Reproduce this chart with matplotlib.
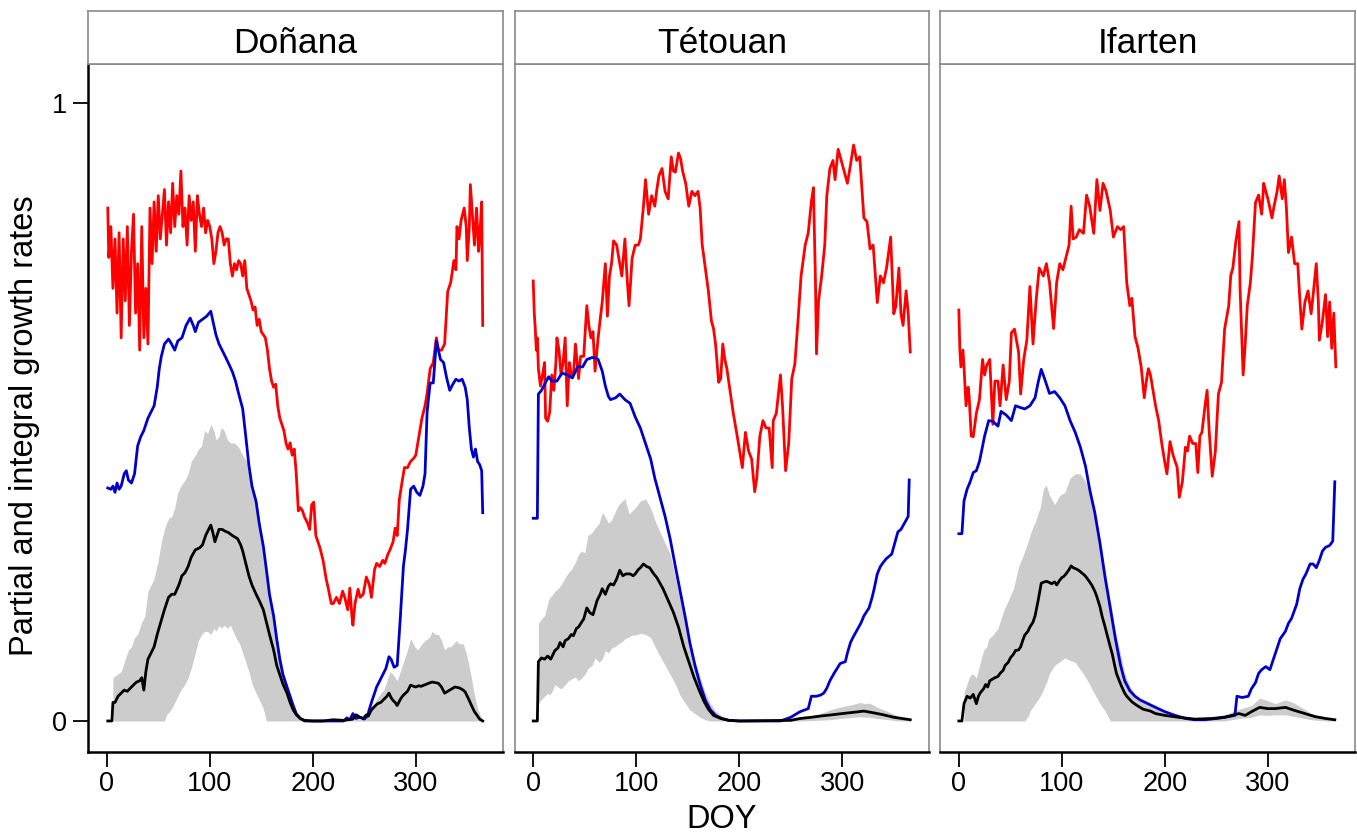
import matplotlib
matplotlib.use("Agg")
import matplotlib.pyplot as plt

plt.rcParams['font.family'] = ['Liberation Sans', 'DejaVu Sans']

sites = ["Doñana", "Tétouan", "Ifarten"]
x_ticks = [0, 100, 200, 300]

# ---------------- Doñana ----------------
donana_red_doy = [1, 2, 4, 6, 8, 10, 12, 14, 16, 18, 20, 22, 24, 26, 28, 30, 32, 34, 36, 38, 40,
                  42, 44, 46, 48, 50, 52, 54, 56, 58, 60, 62, 64, 66, 68, 70, 72, 74, 76, 78, 80,
                  82, 84, 86, 88, 90, 92, 94, 96, 98, 100, 102, 104, 106, 108, 110, 112, 114, 116,
                  118, 120, 122, 124, 126, 128, 130, 132, 134, 136, 138, 140, 142, 144, 146, 148,
                  150, 152, 154, 156, 158, 160, 162, 164, 166, 168, 170, 172, 174, 176, 178, 180,
                  182, 184, 186, 188, 190, 192, 195, 197, 199, 201, 203, 205, 207, 210, 213, 215,
                  218, 220, 223, 226, 229, 231, 234, 236, 238, 239, 241, 244, 246, 249, 252, 255,
                  257, 260, 262, 265, 268, 270, 273, 275, 278, 280, 282, 284, 287, 289, 292, 295,
                  298, 300, 302, 304, 306, 309, 311, 314, 317, 320, 322, 325, 328, 331, 334, 337,
                  339, 340, 342, 344, 347, 349, 350, 352, 353, 355, 357, 359, 361, 362, 364, 365]
donana_red = [0.83, 0.75, 0.80, 0.70, 0.78, 0.66, 0.79, 0.62, 0.78, 0.68, 0.80, 0.64, 0.76, 0.82,
              0.66, 0.74, 0.60, 0.80, 0.62, 0.70, 0.61, 0.83, 0.74, 0.84, 0.76, 0.85, 0.78, 0.82,
              0.86, 0.77, 0.84, 0.79, 0.87, 0.80, 0.85, 0.82, 0.89, 0.80, 0.83, 0.77, 0.85, 0.81,
              0.84, 0.76, 0.85, 0.82, 0.80, 0.83, 0.79, 0.81, 0.80, 0.78, 0.74, 0.76, 0.79, 0.80,
              0.79, 0.77, 0.78, 0.78, 0.74, 0.72, 0.74, 0.73, 0.745, 0.74, 0.72, 0.745, 0.70, 0.69,
              0.68, 0.665, 0.67, 0.64, 0.65, 0.63, 0.625, 0.62, 0.60, 0.57, 0.55, 0.54, 0.545, 0.51,
              0.49, 0.48, 0.47, 0.45, 0.44, 0.45, 0.43, 0.44, 0.40, 0.34, 0.345, 0.34, 0.33, 0.32,
              0.31, 0.35, 0.354, 0.30, 0.29, 0.28, 0.26, 0.23, 0.215, 0.19, 0.19, 0.20, 0.19, 0.21,
              0.20, 0.18, 0.215, 0.17, 0.155, 0.19, 0.213, 0.20, 0.205, 0.233, 0.22, 0.20, 0.245,
              0.255, 0.25, 0.26, 0.255, 0.27, 0.277, 0.29, 0.312, 0.30, 0.358, 0.39, 0.41, 0.41,
              0.42, 0.425, 0.43, 0.45, 0.47, 0.49, 0.51, 0.53, 0.57, 0.58, 0.62, 0.60, 0.60, 0.61,
              0.695, 0.71, 0.745, 0.73, 0.80, 0.78, 0.81, 0.83, 0.80, 0.745, 0.80, 0.868, 0.82,
              0.77, 0.83, 0.76, 0.78, 0.84, 0.64]
donana_blue_doy = [1, 4, 6, 8, 10, 12, 14, 17, 19, 21, 24, 27, 30, 33, 36, 40, 43, 46, 49, 51, 53,
                   56, 60, 63, 66, 69, 73, 77, 81, 84, 86, 89, 93, 97, 101, 104, 106, 109, 112, 115,
                   119, 122, 125, 128, 132, 135, 138, 141, 145, 148, 152, 155, 158, 162, 165, 168,
                   171, 175, 178, 181, 184, 188, 192, 230, 233, 236, 239, 242, 246, 250, 253, 257,
                   260, 262, 265, 268, 271, 274, 276, 279, 282, 285, 288, 290, 292, 295, 298, 301,
                   304, 307, 309, 311, 314, 317, 320, 322, 324, 327, 330, 333, 336, 339, 342, 345,
                   348, 350, 352, 354, 356, 358, 360, 362, 364, 365]
donana_blue = [0.377, 0.375, 0.38, 0.37, 0.385, 0.375, 0.38, 0.40, 0.405, 0.39, 0.385, 0.40, 0.445,
               0.46, 0.47, 0.49, 0.50, 0.51, 0.54, 0.57, 0.59, 0.61, 0.618, 0.61, 0.60, 0.615, 0.62,
               0.64, 0.652, 0.64, 0.63, 0.645, 0.65, 0.655, 0.663, 0.64, 0.625, 0.61, 0.60, 0.59,
               0.576, 0.565, 0.55, 0.53, 0.505, 0.46, 0.414, 0.38, 0.355, 0.32, 0.283, 0.245, 0.205,
               0.17, 0.133, 0.10, 0.075, 0.055, 0.04, 0.025, 0.012, 0.004, 0.0, 0.0, 0.005, 0.002,
               0.012, 0.004, 0.006, 0.003, 0.008, 0.03, 0.045, 0.055, 0.065, 0.075, 0.085, 0.104,
               0.10, 0.087, 0.09, 0.167, 0.25, 0.277, 0.31, 0.375, 0.38, 0.37, 0.365, 0.38, 0.40,
               0.50, 0.547, 0.547, 0.615, 0.60, 0.585, 0.58, 0.555, 0.535, 0.545, 0.553, 0.55,
               0.553, 0.54, 0.52, 0.474, 0.44, 0.427, 0.44, 0.42, 0.415, 0.405, 0.337]
donana_black_doy = [1, 5, 6, 8, 11, 14, 17, 20, 24, 27, 29, 32, 34, 36, 38, 40, 43, 46, 49, 53, 56,
                    60, 63, 66, 70, 73, 76, 79, 82, 86, 90, 93, 96, 98, 101, 103, 105, 107, 109, 112,
                    115, 118, 122, 125, 127, 130, 132, 135, 138, 141, 145, 148, 152, 155, 158, 162,
                    165, 168, 171, 175, 178, 181, 184, 188, 192, 200, 210, 220, 230, 239, 242, 246,
                    249, 252, 254, 256, 258, 261, 263, 266, 269, 272, 274, 276, 278, 280, 282, 285,
                    287, 290, 292, 295, 298, 300, 303, 305, 308, 311, 314, 316, 319, 322, 325, 328,
                    331, 333, 336, 338, 341, 343, 346, 348, 350, 352, 355, 357, 360, 362, 365]
donana_black = [0.0, 0.0, 0.03, 0.03, 0.04, 0.045, 0.05, 0.048, 0.055, 0.06, 0.063, 0.065, 0.07,
                0.05, 0.08, 0.10, 0.11, 0.12, 0.14, 0.163, 0.18, 0.20, 0.205, 0.205, 0.22, 0.235,
                0.24, 0.25, 0.265, 0.277, 0.28, 0.285, 0.30, 0.307, 0.317, 0.305, 0.29, 0.30, 0.31,
                0.31, 0.307, 0.305, 0.30, 0.297, 0.295, 0.285, 0.275, 0.255, 0.235, 0.22, 0.205,
                0.195, 0.18, 0.16, 0.14, 0.115, 0.09, 0.075, 0.06, 0.045, 0.03, 0.018, 0.01, 0.004,
                0.001, 0.0, 0.0, 0.002, 0.001, 0.003, 0.01, 0.006, 0.004, 0.01, 0.008, 0.015, 0.02,
                0.025, 0.028, 0.03, 0.035, 0.04, 0.045, 0.038, 0.033, 0.03, 0.025, 0.035, 0.04,
                0.045, 0.048, 0.058, 0.056, 0.055, 0.057, 0.056, 0.058, 0.06, 0.062, 0.063, 0.062,
                0.061, 0.055, 0.045, 0.048, 0.05, 0.053, 0.055, 0.054, 0.053, 0.05, 0.047, 0.04,
                0.033, 0.022, 0.015, 0.008, 0.003, 0.0]
donana_band_doy = [6, 10, 14, 18, 21, 24, 27, 30, 34, 37, 40, 43, 46, 50, 53, 56, 58, 61, 63, 66,
                   69, 72, 76, 79, 82, 86, 89, 92, 95, 98, 101, 104, 106, 109, 111, 114, 117, 120,
                   124, 127, 129, 132, 134, 136, 138, 141, 145, 148, 152, 155, 158, 162, 165, 168,
                   171, 175, 178, 181, 184, 188, 191, 220, 248, 253, 257, 262, 266, 269, 272, 275,
                   278, 282, 285, 289, 292, 295, 299, 302, 306, 309, 313, 316, 319, 322, 325, 328,
                   331, 334, 337, 339, 342, 346, 349, 351, 354, 356, 358, 360, 363, 365]
donana_band_hi = [0.07, 0.075, 0.08, 0.10, 0.115, 0.12, 0.135, 0.14, 0.16, 0.17, 0.21, 0.22, 0.23,
                  0.26, 0.29, 0.31, 0.32, 0.33, 0.33, 0.345, 0.37, 0.38, 0.39, 0.40, 0.42, 0.43,
                  0.44, 0.445, 0.47, 0.465, 0.48, 0.47, 0.455, 0.46, 0.475, 0.47, 0.455, 0.45, 0.45,
                  0.445, 0.44, 0.43, 0.425, 0.42, 0.40, 0.385, 0.36, 0.33, 0.28, 0.24, 0.21, 0.17,
                  0.14, 0.11, 0.085, 0.06, 0.04, 0.025, 0.013, 0.005, 0.0, 0.0, 0.003, 0.01, 0.02,
                  0.035, 0.045, 0.05, 0.065, 0.08, 0.075, 0.065, 0.08, 0.10, 0.115, 0.133, 0.12,
                  0.115, 0.125, 0.13, 0.135, 0.145, 0.14, 0.14, 0.13, 0.115, 0.12, 0.12, 0.125, 0.13,
                  0.125, 0.125, 0.11, 0.095, 0.07, 0.05, 0.035, 0.02, 0.008, 0.0]
donana_band_lo = [0.0] * 15 + [0.0, 0.01, 0.015, 0.02, 0.03, 0.04, 0.05, 0.06, 0.07, 0.085, 0.11,
                               0.13, 0.14, 0.145, 0.145, 0.14, 0.15, 0.145, 0.155, 0.15, 0.155,
                               0.15, 0.155, 0.14, 0.13, 0.125, 0.11, 0.10, 0.09, 0.08, 0.06,
                               0.045, 0.035, 0.02, 0.0] + [0.0] * 50

# ---------------- Tétouan ----------------
tetouan_red_doy = [0, 1, 2, 3, 4, 5, 7, 9, 11, 12, 14, 16, 18, 20, 22, 23, 25, 27, 29, 31, 33, 35,
                   37, 39, 41, 44, 46, 49, 52, 54, 56, 58, 60, 63, 65, 67, 70, 72, 74, 76, 78, 81,
                   83, 86, 89, 91, 93, 96, 99, 102, 104, 107, 109, 112, 115, 118, 120, 122, 125,
                   128, 131, 134, 136, 138, 141, 143, 145, 148, 151, 154, 157, 160, 162, 164, 167,
                   170, 173, 175, 177, 180, 182, 184, 186, 188, 191, 194, 198, 201, 203, 206, 209,
                   212, 215, 217, 220, 223, 226, 229, 232, 233, 236, 240, 242, 245, 248, 251, 254,
                   257, 260, 264, 267, 270, 272, 274, 275, 277, 280, 283, 285, 288, 291, 293, 296,
                   299, 303, 305, 308, 311, 314, 317, 321, 324, 327, 330, 334, 337, 340, 343, 347,
                   350, 352, 355, 357, 359, 362, 364, 366]
tetouan_red = [0.712, 0.66, 0.634, 0.60, 0.62, 0.57, 0.542, 0.56, 0.58, 0.49, 0.485, 0.50, 0.56,
               0.535, 0.58, 0.62, 0.60, 0.56, 0.58, 0.62, 0.51, 0.58, 0.56, 0.56, 0.61, 0.554, 0.59,
               0.59, 0.672, 0.64, 0.62, 0.63, 0.566, 0.62, 0.65, 0.678, 0.74, 0.655, 0.72, 0.74,
               0.777, 0.77, 0.75, 0.72, 0.78, 0.72, 0.672, 0.749, 0.77, 0.77, 0.78, 0.833, 0.876,
               0.82, 0.85, 0.833, 0.86, 0.882, 0.894, 0.857, 0.845, 0.913, 0.89, 0.888, 0.919,
               0.91, 0.89, 0.87, 0.833, 0.857, 0.85, 0.857, 0.83, 0.771, 0.733, 0.696, 0.647,
               0.635, 0.61, 0.548, 0.554, 0.61, 0.585, 0.57, 0.535, 0.50, 0.461, 0.43, 0.41, 0.467,
               0.437, 0.424, 0.371, 0.393, 0.461, 0.486, 0.474, 0.474, 0.41, 0.486, 0.498, 0.56,
               0.51, 0.405, 0.449, 0.554, 0.578, 0.647, 0.72, 0.77, 0.79, 0.84, 0.863, 0.71, 0.594,
               0.68, 0.72, 0.77, 0.85, 0.894, 0.907, 0.876, 0.925, 0.907, 0.882, 0.87, 0.90, 0.932,
               0.907, 0.913, 0.814, 0.808, 0.764, 0.77, 0.677, 0.72, 0.709, 0.733, 0.783, 0.659,
               0.671, 0.733, 0.659, 0.64, 0.696, 0.66, 0.597]
tetouan_blue_doy = [0, 4, 5, 8, 12, 15, 18, 23, 28, 33, 38, 43, 48, 52, 57, 60, 63, 67, 70, 73, 75,
                    80, 84, 89, 94, 99, 104, 109, 114, 118, 123, 128, 133, 138, 143, 148, 152, 157,
                    162, 167, 172, 177, 183, 190, 200, 240, 250, 259, 267, 270, 275, 279, 282, 285,
                    288, 292, 295, 298, 303, 305, 308, 311, 314, 318, 321, 326, 329, 331, 334, 337,
                    340, 343, 348, 351, 354, 357, 359, 364, 365]
tetouan_blue = [0.328, 0.328, 0.529, 0.535, 0.548, 0.557, 0.55, 0.55, 0.563, 0.56, 0.555, 0.573,
                0.573, 0.585, 0.588, 0.588, 0.585, 0.566, 0.542, 0.525, 0.52, 0.523, 0.529, 0.52,
                0.514, 0.492, 0.474, 0.449, 0.424, 0.393, 0.362, 0.331, 0.294, 0.25, 0.207, 0.164,
                0.127, 0.09, 0.059, 0.034, 0.018, 0.009, 0.004, 0.001, 0.0, 0.0, 0.006, 0.015, 0.02,
                0.04, 0.04, 0.042, 0.045, 0.053, 0.065, 0.077, 0.085, 0.093, 0.096, 0.11, 0.127,
                0.137, 0.146, 0.158, 0.17, 0.183, 0.20, 0.214, 0.238, 0.25, 0.257, 0.263, 0.27,
                0.288, 0.306, 0.31, 0.316, 0.331, 0.39]
tetouan_black_doy = [0, 4, 5, 8, 11, 14, 17, 21, 24, 26, 29, 31, 34, 37, 39, 42, 44, 47, 49, 52,
                     55, 58, 62, 65, 67, 70, 73, 75, 78, 81, 84, 87, 90, 94, 97, 99, 102, 104, 107,
                     110, 113, 117, 120, 122, 126, 131, 136, 141, 146, 151, 156, 161, 166, 170, 175,
                     182, 190, 200, 250, 259, 270, 279, 290, 300, 311, 321, 331, 340, 350, 358, 366]
tetouan_black = [0.0, 0.0, 0.096, 0.102, 0.10, 0.105, 0.10, 0.114, 0.118, 0.127, 0.12, 0.13, 0.133,
                 0.14, 0.138, 0.15, 0.152, 0.16, 0.165, 0.183, 0.175, 0.172, 0.195, 0.205, 0.214,
                 0.205, 0.218, 0.222, 0.22, 0.23, 0.244, 0.235, 0.238, 0.238, 0.235, 0.238, 0.245,
                 0.248, 0.254, 0.25, 0.248, 0.238, 0.232, 0.226, 0.214, 0.195, 0.176, 0.152, 0.121,
                 0.096, 0.071, 0.05, 0.031, 0.019, 0.009, 0.004, 0.001, 0.0, 0.001, 0.004, 0.006,
                 0.008, 0.01, 0.012, 0.014, 0.016, 0.013, 0.01, 0.006, 0.004, 0.002]
tetouan_band_doy = [5, 8, 11, 14, 16, 19, 21, 24, 27, 31, 34, 37, 41, 44, 47, 50, 53, 57, 60, 64,
                    67, 70, 73, 76, 80, 83, 86, 89, 93, 96, 99, 104, 109, 114, 118, 123, 128, 133,
                    138, 143, 148, 152, 157, 162, 167, 172, 177, 183, 190, 200, 230, 260, 275, 288,
                    297, 305, 311, 317, 322, 326, 330, 334, 340, 345, 350, 356, 362, 366]
tetouan_band_hi = [0.158, 0.165, 0.17, 0.19, 0.20, 0.205, 0.21, 0.214, 0.22, 0.232, 0.24, 0.245,
                   0.257, 0.27, 0.275, 0.272, 0.30, 0.305, 0.312, 0.32, 0.337, 0.33, 0.32, 0.325,
                   0.34, 0.35, 0.355, 0.36, 0.335, 0.34, 0.345, 0.356, 0.359, 0.345, 0.325, 0.306,
                   0.288, 0.27, 0.232, 0.195, 0.158, 0.127, 0.096, 0.071, 0.046, 0.028, 0.016, 0.008,
                   0.003, 0.001, 0.002, 0.006, 0.01, 0.018, 0.022, 0.025, 0.027, 0.03, 0.028, 0.029,
                   0.026, 0.022, 0.018, 0.015, 0.011, 0.007, 0.004, 0.002]
tetouan_band_lo = [0.028, 0.035, 0.04, 0.045, 0.042, 0.05, 0.059, 0.055, 0.052, 0.059, 0.065, 0.068,
                   0.071, 0.065, 0.07, 0.075, 0.085, 0.09, 0.102, 0.095, 0.10, 0.114, 0.11, 0.118,
                   0.121, 0.125, 0.128, 0.133, 0.136, 0.139, 0.139, 0.142, 0.14, 0.135, 0.121,
                   0.105, 0.09, 0.075, 0.059, 0.04, 0.028, 0.018, 0.012, 0.006, 0.002, 0.0, 0.0, 0.0,
                   0.0, 0.0, 0.0, 0.0, 0.001, 0.002, 0.004, 0.005, 0.006, 0.007, 0.006, 0.006, 0.005,
                   0.004, 0.003, 0.002, 0.001, 0.0, 0.0, 0.0]

# ---------------- Ifarten ----------------
ifarten_red_doy = [0, 1, 2, 4, 5, 7, 9, 10, 12, 14, 17, 20, 23, 25, 27, 30, 33, 35, 38, 40, 43, 46,
                   49, 51, 54, 58, 60, 63, 66, 69, 72, 75, 78, 82, 85, 88, 92, 95, 98, 101, 104,
                   107, 109, 111, 114, 117, 121, 124, 127, 131, 134, 137, 140, 143, 147, 150, 154,
                   157, 160, 163, 166, 168, 171, 174, 177, 180, 182, 184, 186, 188, 191, 194, 197,
                   200, 202, 205, 208, 212, 214, 217, 220, 222, 224, 227, 230, 232, 234, 236, 239,
                   241, 243, 246, 249, 252, 255, 258, 262, 264, 266, 269, 272, 273, 276, 278, 280,
                   283, 285, 287, 288, 291, 294, 296, 298, 300, 304, 306, 309, 311, 314, 316, 318,
                   320, 323, 326, 329, 331, 333, 336, 339, 342, 344, 347, 349, 350, 353, 356, 358,
                   360, 362, 364, 366]
ifarten_red = [0.665, 0.60, 0.573, 0.60, 0.573, 0.51, 0.54, 0.525, 0.461, 0.46, 0.498, 0.52, 0.585,
               0.56, 0.575, 0.585, 0.48, 0.55, 0.55, 0.51, 0.576, 0.52, 0.55, 0.628, 0.634, 0.597,
               0.529, 0.585, 0.616, 0.703, 0.61, 0.68, 0.733, 0.72, 0.74, 0.71, 0.635, 0.71, 0.74,
               0.73, 0.75, 0.77, 0.833, 0.78, 0.783, 0.795, 0.789, 0.851, 0.833, 0.789, 0.876,
               0.826, 0.87, 0.857, 0.826, 0.783, 0.80, 0.795, 0.80, 0.709, 0.672, 0.684, 0.622,
               0.603, 0.573, 0.523, 0.55, 0.57, 0.56, 0.54, 0.51, 0.486, 0.449, 0.418, 0.40, 0.452,
               0.43, 0.41, 0.362, 0.387, 0.443, 0.437, 0.461, 0.449, 0.449, 0.402, 0.461, 0.467,
               0.51, 0.535, 0.47, 0.396, 0.436, 0.529, 0.548, 0.634, 0.672, 0.721, 0.733, 0.777,
               0.808, 0.70, 0.56, 0.61, 0.672, 0.709, 0.752, 0.808, 0.839, 0.851, 0.82, 0.87,
               0.857, 0.845, 0.814, 0.833, 0.857, 0.882, 0.845, 0.876, 0.83, 0.758, 0.783, 0.74,
               0.74, 0.684, 0.634, 0.678, 0.696, 0.659, 0.69, 0.74, 0.678, 0.616, 0.647, 0.69,
               0.622, 0.678, 0.603, 0.66, 0.573]
ifarten_blue_doy = [0, 3, 5, 8, 11, 14, 17, 20, 22, 25, 29, 33, 38, 41, 46, 51, 55, 60, 64, 69, 74,
                    77, 80, 83, 88, 93, 98, 103, 108, 113, 118, 123, 127, 132, 137, 142, 147, 152,
                    157, 161, 166, 171, 176, 181, 186, 191, 200, 210, 220, 229, 239, 250, 258, 268,
                    270, 275, 281, 284, 288, 291, 294, 298, 302, 307, 312, 317, 320, 323, 328, 331,
                    334, 337, 341, 344, 347, 350, 353, 356, 360, 363, 365]
ifarten_blue = [0.303, 0.303, 0.356, 0.375, 0.387, 0.402, 0.405, 0.42, 0.436, 0.461, 0.486, 0.485,
                0.477, 0.501, 0.495, 0.486, 0.51, 0.507, 0.505, 0.51, 0.523, 0.548, 0.569, 0.555,
                0.53, 0.533, 0.523, 0.51, 0.486, 0.467, 0.443, 0.412, 0.375, 0.337, 0.288, 0.232,
                0.183, 0.133, 0.09, 0.065, 0.049, 0.04, 0.034, 0.03, 0.026, 0.022, 0.015, 0.009,
                0.004, 0.002, 0.002, 0.004, 0.006, 0.009, 0.04, 0.038, 0.04, 0.052, 0.062, 0.077,
                0.083, 0.088, 0.083, 0.108, 0.133, 0.145, 0.158, 0.166, 0.189, 0.214, 0.229, 0.238,
                0.254, 0.254, 0.248, 0.26, 0.275, 0.281, 0.284, 0.291, 0.387]
ifarten_black_doy = [0, 3, 5, 8, 11, 14, 17, 19, 21, 24, 26, 28, 30, 33, 35, 38, 40, 43, 45, 48,
                     50, 53, 55, 58, 60, 62, 64, 67, 69, 72, 74, 77, 80, 83, 85, 88, 90, 93, 95, 98,
                     100, 102, 104, 107, 109, 111, 114, 117, 119, 122, 124, 127, 129, 132, 134, 137,
                     139, 142, 144, 147, 149, 151, 153, 156, 158, 161, 163, 168, 173, 179, 186, 191,
                     200, 213, 229, 246, 258, 272, 278, 284, 292, 300, 307, 317, 326, 336, 346, 356,
                     365]
ifarten_black = [0.0, 0.0, 0.028, 0.04, 0.037, 0.043, 0.028, 0.04, 0.046, 0.052, 0.059, 0.055, 0.065,
                 0.068, 0.07, 0.072, 0.077, 0.082, 0.09, 0.095, 0.102, 0.108, 0.114, 0.115, 0.12,
                 0.13, 0.139, 0.145, 0.152, 0.16, 0.17, 0.195, 0.223, 0.225, 0.226, 0.224, 0.222,
                 0.225, 0.22, 0.228, 0.232, 0.234, 0.238, 0.245, 0.251, 0.248, 0.246, 0.243, 0.24,
                 0.236, 0.232, 0.225, 0.22, 0.21, 0.201, 0.185, 0.17, 0.152, 0.139, 0.12, 0.108,
                 0.092, 0.077, 0.064, 0.056, 0.045, 0.04, 0.031, 0.025, 0.019, 0.016, 0.012, 0.009,
                 0.006, 0.003, 0.004, 0.006, 0.012, 0.009, 0.015, 0.022, 0.02, 0.02, 0.022, 0.017,
                 0.012, 0.007, 0.004, 0.002]
ifarten_band_doy = [5, 8, 10, 13, 17, 21, 24, 27, 29, 33, 38, 43, 48, 53, 58, 63, 64, 68, 69, 73,
                    74, 77, 79, 82, 84, 85, 88, 93, 98, 103, 108, 113, 118, 123, 127, 132, 137, 142,
                    147, 152, 157, 161, 166, 171, 176, 182, 191, 200, 229, 258, 272, 284, 292, 300,
                    307, 317, 323, 333, 342, 356, 365]
ifarten_band_hi = [0.046, 0.06, 0.07, 0.077, 0.07, 0.096, 0.114, 0.12, 0.133, 0.139, 0.15, 0.176,
                   0.195, 0.214, 0.25, 0.27, 0.275, 0.294, 0.30, 0.319, 0.32, 0.337, 0.345, 0.375,
                   0.38, 0.381, 0.365, 0.35, 0.365, 0.37, 0.393, 0.40, 0.40, 0.387, 0.368, 0.337,
                   0.294, 0.244, 0.195, 0.146, 0.108, 0.077, 0.056, 0.043, 0.034, 0.028, 0.022,
                   0.015, 0.004, 0.01, 0.019, 0.025, 0.037, 0.033, 0.028, 0.034, 0.031, 0.022, 0.012,
                   0.006, 0.002]
ifarten_band_lo = [0.0] * 16 + [0.0, 0.01, 0.016, 0.025, 0.028, 0.035, 0.04, 0.05, 0.059, 0.062,
                                0.077, 0.09, 0.096, 0.102, 0.098, 0.095, 0.083, 0.071, 0.059,
                                0.043, 0.028, 0.016, 0.0, 0.0] + [0.0] * 10 + \
                  [0.004, 0.006, 0.01, 0.009, 0.01, 0.01, 0.008, 0.005, 0.002, 0.0, 0.0]

panels = [
    (donana_red_doy, donana_red, donana_blue_doy, donana_blue, donana_black_doy, donana_black,
     donana_band_doy, donana_band_lo, donana_band_hi),
    (tetouan_red_doy, tetouan_red, tetouan_blue_doy, tetouan_blue, tetouan_black_doy, tetouan_black,
     tetouan_band_doy, tetouan_band_lo, tetouan_band_hi),
    (ifarten_red_doy, ifarten_red, ifarten_blue_doy, ifarten_blue, ifarten_black_doy, ifarten_black,
     ifarten_band_doy, ifarten_band_lo, ifarten_band_hi),
]

W, H = 1357, 834
fig = plt.figure(figsize=(W / 100, H / 100), dpi=100)

# panel geometry in pixels
lefts = [88.3, 514.8, 940.4]
pw = 414.5
top_px, bot_px, strip_top = 64.3, 752, 10.7
frame_grey = '#8a8a8a'

for i, (site, pdata) in enumerate(zip(sites, panels)):
    rd, rv, bd, bv, kd, kv, gd, glo, ghi = pdata
    ax = fig.add_axes([lefts[i] / W, (H - bot_px) / H, pw / W, (bot_px - top_px) / H])
    ax.fill_between(gd, glo, ghi, color='#cccccc', linewidth=0)
    ax.plot(rd, rv, color='#ff0000', lw=2.0)
    ax.plot(bd, bv, color='#0000cd', lw=2.0)
    ax.plot(kd, kv, color='black', lw=2.0)
    ax.set_xlim(-17.9, 384.5)
    ax.set_ylim(-0.0502, 1.0626)

    for s in ax.spines.values():
        s.set_color(frame_grey)
        s.set_linewidth(1.2)
    ax.spines['bottom'].set_color('black')
    ax.spines['bottom'].set_linewidth(1.8)

    ax.set_xticks(x_ticks)
    ax.tick_params(axis='x', direction='out', length=11, width=1.3, pad=3, labelsize=19.5)
    if i == 0:
        ax.spines['left'].set_color('black')
        ax.spines['left'].set_linewidth(1.8)
        ax.set_yticks([0, 1])
        ax.set_yticklabels(['0', '1'])
        ax.tick_params(axis='y', direction='out', length=11, width=1.3, pad=4, labelsize=19.5)
    else:
        ax.set_yticks([])

    # strip with the site name
    sax = fig.add_axes([lefts[i] / W, (H - top_px) / H, pw / W, (top_px - strip_top) / H])
    sax.set_xticks([])
    sax.set_yticks([])
    for s in sax.spines.values():
        s.set_color(frame_grey)
        s.set_linewidth(1.2)
    sax.text(0.5, 0.216, site, ha='center', va='baseline', fontsize=25.5, transform=sax.transAxes)

fig.text(25 / W, 408 / H, 'Partial and integral growth rates', rotation=90,
         ha='center', va='center', fontsize=23.5)
fig.text(722 / W, 6 / H, 'DOY', ha='center', va='baseline', fontsize=23.5)

fig.savefig('out.png', dpi=100)
